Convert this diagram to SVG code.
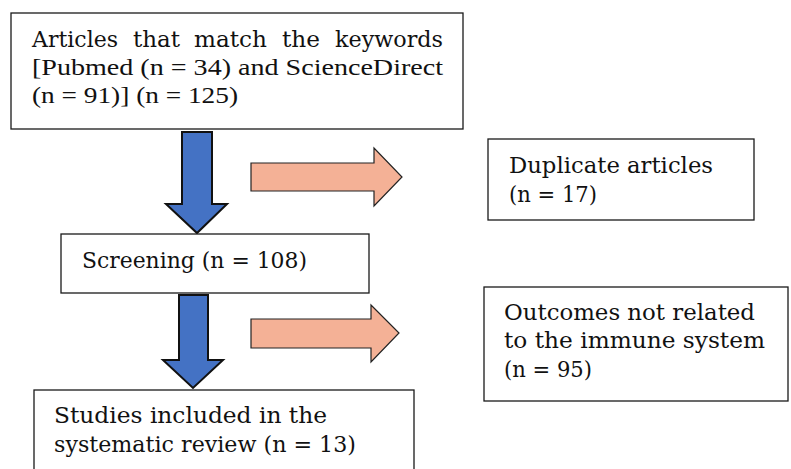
<svg xmlns="http://www.w3.org/2000/svg" width="791" height="469" viewBox="0 0 791 469">
  <style>
    .box { fill: #ffffff; stroke: #1a1a1a; stroke-width: 1.3; }
    .t { font-family: "DejaVu Serif", "Liberation Serif", serif; font-size: 22.5px; fill: #111111; }
    .t2 { font-family: "Liberation Serif", "DejaVu Serif", serif; font-size: 24px; fill: #111111; }
    .down { fill: #4472C4; stroke: #111111; stroke-width: 2; stroke-linejoin: miter; }
    .right { fill: #F4B196; stroke: #222222; stroke-width: 1.2; stroke-linejoin: miter; }
  </style>

  <!-- flow arrows -->
  <g id="connectors">
    <polygon class="down" points="182,132 212,132 212,204 227,204 197,233 166,204 182,204"/>
    <polygon class="down" points="179,295 208,295 208,360 223,360 193,388 163,360 179,360"/>
    <polygon class="right" points="251,163 374,163 374,148 402,177 374,206 374,191 251,191"/>
    <polygon class="right" points="251,319 371,319 371,305 399,333 371,362 371,348 251,348"/>
  </g>

  <g id="identified">
    <rect class="box" x="11" y="13" width="452" height="116"/>
    <!-- justified first line: words placed one by one -->
    <text class="t" y="47">
      <tspan x="32" textLength="86" lengthAdjust="spacingAndGlyphs">Articles</tspan>
      <tspan x="133" textLength="47" lengthAdjust="spacingAndGlyphs">that</tspan>
      <tspan x="194" textLength="73" lengthAdjust="spacingAndGlyphs">match</tspan>
      <tspan x="282" textLength="38" lengthAdjust="spacingAndGlyphs">the</tspan>
      <tspan x="335" textLength="108" lengthAdjust="spacingAndGlyphs">keywords</tspan>
    </text>
    <text class="t2" x="32" y="75" textLength="411" lengthAdjust="spacingAndGlyphs">[Pubmed (n = 34) and ScienceDirect</text>
    <text class="t2" x="32" y="103" textLength="206" lengthAdjust="spacingAndGlyphs">(n = 91)] (n = 125)</text>
  </g>

  <g id="duplicates">
    <rect class="box" x="488" y="139" width="266" height="81"/>
    <text class="t" x="509" y="173" textLength="204" lengthAdjust="spacingAndGlyphs">Duplicate articles</text>
    <text class="t" x="509" y="202" textLength="88" lengthAdjust="spacingAndGlyphs">(n = 17)</text>
  </g>

  <g id="screening">
    <rect class="box" x="61" y="234" width="308" height="59"/>
    <text class="t" x="82" y="268" textLength="225" lengthAdjust="spacingAndGlyphs">Screening (n = 108)</text>
  </g>

  <g id="excluded">
    <rect class="box" x="484" y="287" width="304" height="114"/>
    <text class="t" x="504" y="320" textLength="251" lengthAdjust="spacingAndGlyphs">Outcomes not related</text>
    <text class="t" x="504" y="348" textLength="261" lengthAdjust="spacingAndGlyphs">to the immune system</text>
    <text class="t" x="504" y="377" textLength="88" lengthAdjust="spacingAndGlyphs">(n = 95)</text>
  </g>

  <g id="included">
    <rect class="box" x="34" y="390" width="380" height="90"/>
    <text class="t" x="54" y="423" textLength="273" lengthAdjust="spacingAndGlyphs">Studies included in the</text>
    <text class="t" x="54" y="452" textLength="302" lengthAdjust="spacingAndGlyphs">systematic review (n = 13)</text>
  </g>
</svg>
